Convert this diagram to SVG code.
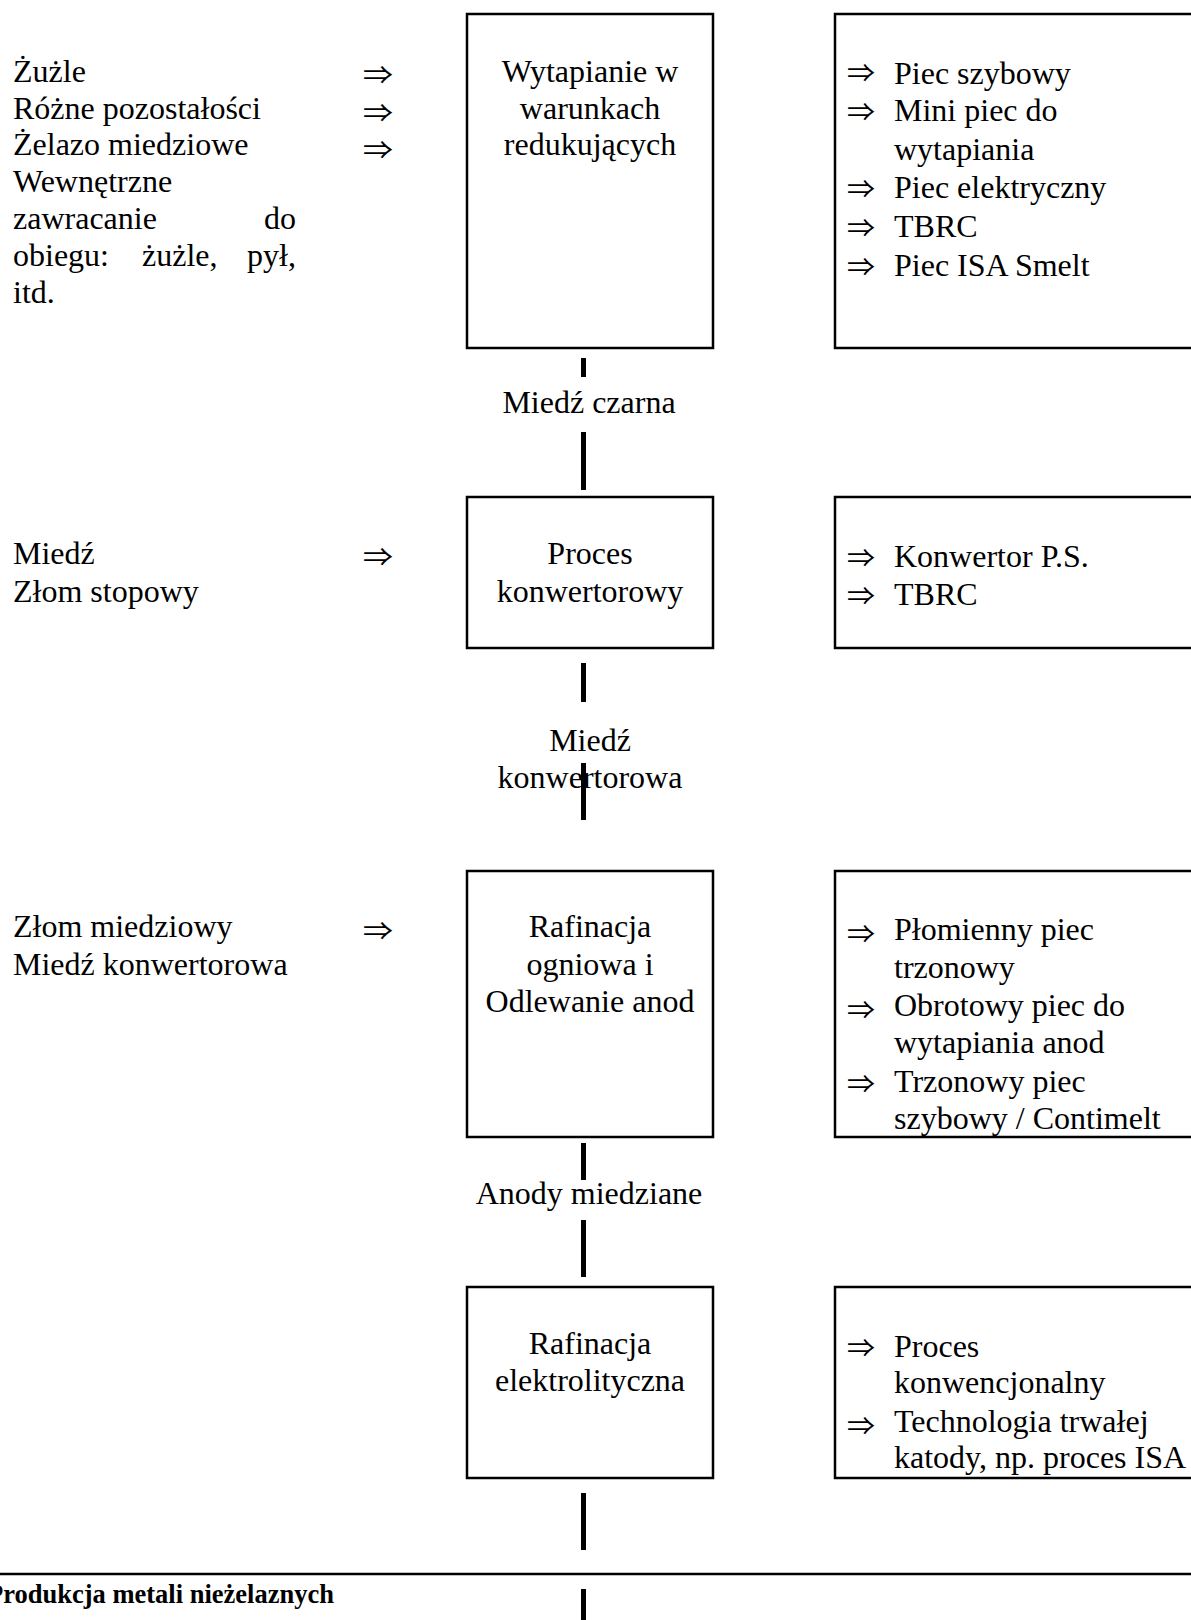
<svg xmlns="http://www.w3.org/2000/svg" width="1191" height="1620" viewBox="0 0 1191 1620">
<style>
.t{font-family:"Liberation Serif","Times New Roman",serif;font-size:32px;fill:#000}
.c{text-anchor:middle}
.e{text-anchor:end}
.a{font-family:"Noto Sans CJK JP","DejaVu Sans",sans-serif;font-size:25px;fill:#000}
.box{fill:#fff;stroke:#000;stroke-width:2.5}
.con{stroke:#000;stroke-width:5;fill:none}
.cap{font-family:"Liberation Serif","Times New Roman",serif;font-size:26.5px;font-weight:bold;fill:#000}
</style>
<rect width="1191" height="1620" fill="#fff"/>

<g id="connectors">
<line class="con" x1="583.5" y1="358" x2="583.5" y2="377"/>
<line class="con" x1="583.5" y1="432" x2="583.5" y2="490"/>
<line class="con" x1="583.5" y1="663" x2="583.5" y2="702"/>
<line class="con" x1="583.5" y1="763" x2="583.5" y2="820"/>
<line class="con" x1="583.5" y1="1143" x2="583.5" y2="1180"/>
<line class="con" x1="583.5" y1="1220" x2="583.5" y2="1277"/>
<line class="con" x1="583.5" y1="1493" x2="583.5" y2="1550"/>
<line class="con" x1="583.5" y1="1589" x2="583.5" y2="1622"/>
</g>

<g id="inputs1">
<text class="t" x="13" y="82">Żużle</text>
<text class="t" x="13" y="118.5">Różne pozostałości</text>
<text class="t" x="13" y="155">Żelazo miedziowe</text>
<text class="t" x="13" y="192">Wewnętrzne</text>
<text class="t" x="13" y="229">zawracanie</text>
<text class="t e" x="296" y="229">do</text>
<text class="t" x="13" y="266">obiegu:</text>
<text class="t" x="142" y="266">żużle,</text>
<text class="t e" x="296" y="266">pył,</text>
<text class="t" x="13" y="303">itd.</text>
<text class="a" x="363" y="84" textLength="30" lengthAdjust="spacingAndGlyphs">⇒</text>
<text class="a" x="363" y="122" textLength="30" lengthAdjust="spacingAndGlyphs">⇒</text>
<text class="a" x="363" y="159" textLength="30" lengthAdjust="spacingAndGlyphs">⇒</text>
</g>

<g id="node-wytapianie">
<rect class="box" x="467" y="14" width="246" height="334"/>
<text class="t c" x="590" y="82">Wytapianie w</text>
<text class="t c" x="590" y="118.5">warunkach</text>
<text class="t c" x="590" y="155">redukujących</text>
</g>

<g id="equip1">
<rect class="box" x="835" y="14" width="370" height="334"/>
<text class="a" x="847" y="82" textLength="28" lengthAdjust="spacingAndGlyphs">⇒</text>
<text class="t" x="894" y="83.5">Piec szybowy</text>
<text class="a" x="847" y="121" textLength="28" lengthAdjust="spacingAndGlyphs">⇒</text>
<text class="t" x="894" y="121">Mini piec do</text>
<text class="t" x="894" y="159.5">wytapiania</text>
<text class="a" x="847" y="198" textLength="28" lengthAdjust="spacingAndGlyphs">⇒</text>
<text class="t" x="894" y="198">Piec elektryczny</text>
<text class="a" x="847" y="237" textLength="28" lengthAdjust="spacingAndGlyphs">⇒</text>
<text class="t" x="894" y="237">TBRC</text>
<text class="a" x="847" y="276" textLength="28" lengthAdjust="spacingAndGlyphs">⇒</text>
<text class="t" x="894" y="275.5">Piec ISA Smelt</text>
</g>

<g id="label-miedz-czarna">
<text class="t c" x="589" y="413">Miedź czarna</text>
</g>

<g id="inputs2">
<text class="t" x="13" y="564">Miedź</text>
<text class="t" x="13" y="602">Złom stopowy</text>
<text class="a" x="363" y="566" textLength="30" lengthAdjust="spacingAndGlyphs">⇒</text>
</g>

<g id="node-konwertor">
<rect class="box" x="467" y="497" width="246" height="151"/>
<text class="t c" x="590" y="564">Proces</text>
<text class="t c" x="590" y="602">konwertorowy</text>
</g>

<g id="equip2">
<rect class="box" x="835" y="497" width="370" height="151"/>
<text class="a" x="847" y="567" textLength="28" lengthAdjust="spacingAndGlyphs">⇒</text>
<text class="t" x="894" y="567">Konwertor P.S.</text>
<text class="a" x="847" y="605" textLength="28" lengthAdjust="spacingAndGlyphs">⇒</text>
<text class="t" x="894" y="605">TBRC</text>
</g>

<g id="label-miedz-konwertorowa">
<text class="t c" x="590" y="751">Miedź</text>
<text class="t c" x="590" y="788">konwertorowa</text>
</g>

<g id="inputs3">
<text class="t" x="13" y="937">Złom miedziowy</text>
<text class="t" x="13" y="974.5">Miedź konwertorowa</text>
<text class="a" x="363" y="940" textLength="30" lengthAdjust="spacingAndGlyphs">⇒</text>
</g>

<g id="node-rafinacja-ogniowa">
<rect class="box" x="467" y="871" width="246" height="266"/>
<text class="t c" x="590" y="937">Rafinacja</text>
<text class="t c" x="590" y="974.5">ogniowa i</text>
<text class="t c" x="590" y="1011.5">Odlewanie anod</text>
</g>

<g id="equip3">
<rect class="box" x="835" y="871" width="370" height="266"/>
<text class="a" x="847" y="943" textLength="28" lengthAdjust="spacingAndGlyphs">⇒</text>
<text class="t" x="894" y="940">Płomienny piec</text>
<text class="t" x="894" y="978">trzonowy</text>
<text class="a" x="847" y="1019" textLength="28" lengthAdjust="spacingAndGlyphs">⇒</text>
<text class="t" x="894" y="1016">Obrotowy piec do</text>
<text class="t" x="894" y="1053">wytapiania anod</text>
<text class="a" x="847" y="1093" textLength="28" lengthAdjust="spacingAndGlyphs">⇒</text>
<text class="t" x="894" y="1092">Trzonowy piec</text>
<text class="t" x="894" y="1129">szybowy / Contimelt</text>
</g>

<g id="label-anody">
<text class="t c" x="589" y="1204">Anody miedziane</text>
</g>

<g id="node-rafinacja-elektrolityczna">
<rect class="box" x="467" y="1287" width="246" height="191"/>
<text class="t c" x="590" y="1354">Rafinacja</text>
<text class="t c" x="590" y="1391">elektrolityczna</text>
</g>

<g id="equip4">
<rect class="box" x="835" y="1287" width="370" height="191"/>
<text class="a" x="847" y="1357" textLength="28" lengthAdjust="spacingAndGlyphs">⇒</text>
<text class="t" x="894" y="1357">Proces</text>
<text class="t" x="894" y="1393">konwencjonalny</text>
<text class="a" x="847" y="1435" textLength="28" lengthAdjust="spacingAndGlyphs">⇒</text>
<text class="t" x="894" y="1432">Technologia trwałej</text>
<text class="t" x="894" y="1468">katody, np. proces ISA</text>
</g>

<g id="footer">
<line x1="0" y1="1574" x2="1191" y2="1574" stroke="#000" stroke-width="2.5"/>
<text class="cap" x="-13" y="1603">Produkcja metali nieżelaznych</text>
</g>
</svg>
